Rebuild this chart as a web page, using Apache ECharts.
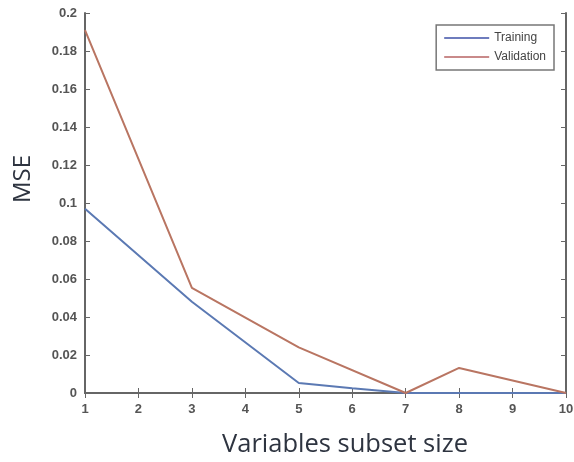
<!DOCTYPE html>
<html><head><meta charset="utf-8">
<script src="https://cdn.jsdelivr.net/npm/echarts@6/dist/echarts.min.js"></script>
<style>html,body{margin:0;padding:0;background:#fff}#c{width:574px;height:462px}</style>
</head><body><div id="c"></div>
<script>
const xTicks = [1,2,3,4,5,6,7,8,9,10];
const yTicks = [0,0.02,0.04,0.06,0.08,0.1,0.12,0.14,0.16,0.18,0.2];
const trainingX = [1,3,5,6,7,8,9,10];
const trainingY = [0.097,0.048,0.0053,0.0025,0,0,0,0];
const validationX = [1,3,5,7,8,10];
const validationY = [0.191,0.0553,0.024,0,0.0132,0];
const seriesNames = ['Training','Validation'];
const xTitle = 'Variables subset size';
const yTitle = 'MSE';

const chart = echarts.init(document.getElementById('c'));
const tickFont = {color:'#555', fontSize:13, fontFamily:'Liberation Sans, Arial', fontWeight:'bold'};
const axisLine = {show:true, lineStyle:{color:'#666', width:2}};
const tick = {inside:true, length:5, lineStyle:{color:'#666'}};
chart.setOption({
  animation:false,
  grid:{left:85, right:8, top:13, bottom:69, outerBoundsMode:'none', containLabel:false},
  legend:{
    data:seriesNames, orient:'vertical', right:20, top:25,
    borderColor:'#777', borderWidth:1.5, padding:[7,8,7,8],
    itemWidth:45, itemHeight:2, itemGap:7, icon:'rect',
    textStyle:{fontSize:12, color:'#444', fontFamily:'Liberation Sans, Arial'}
  },
  graphic:[{
    type:'text', x:23, y:179, rotation:Math.PI/2,
    style:{text:yTitle, fontSize:24, fontFamily:'Open Sans', fill:'#2e3440',
      textAlign:'center', textVerticalAlign:'middle'}
  },{
    type:'text', x:345, y:445,
    style:{text:xTitle, fontSize:25.5, fontFamily:'Open Sans', fill:'#2e3440',
      textAlign:'center', textVerticalAlign:'middle'}
  }],
  xAxis:[{
    type:'value', min:xTicks[0], max:xTicks[xTicks.length-1], interval:1,
    axisLine:axisLine, axisTick:tick,
    axisLabel:Object.assign({margin:10}, tickFont),
    splitLine:{show:false}
  },{
    type:'value', min:xTicks[0], max:xTicks[xTicks.length-1], interval:1, position:'top',
    axisLine:axisLine, axisTick:tick,
    axisLabel:{show:false}, splitLine:{show:false}
  }],
  yAxis:[{
    type:'value', min:yTicks[0], max:yTicks[yTicks.length-1], interval:0.02,
    axisLine:axisLine, axisTick:tick,
    axisLabel:Object.assign({margin:8, formatter:v=>String(+v.toFixed(2))}, tickFont),
    splitLine:{show:false}
  },{
    type:'value', min:yTicks[0], max:yTicks[yTicks.length-1], interval:0.02, position:'right',
    axisLine:axisLine, axisTick:tick,
    axisLabel:{show:false}, splitLine:{show:false}
  }],
  series:[{
    name:seriesNames[0], type:'line', symbol:'none',
    data:trainingX.map((x,i)=>[x,trainingY[i]]),
    lineStyle:{color:'#5b79b3', width:2}, itemStyle:{color:'#6e7cbd'}
  },{
    name:seriesNames[1], type:'line', symbol:'none',
    data:validationX.map((x,i)=>[x,validationY[i]]),
    lineStyle:{color:'#b97562', width:2}, itemStyle:{color:'#c98a8a'}
  }]
});
</script></body></html>
